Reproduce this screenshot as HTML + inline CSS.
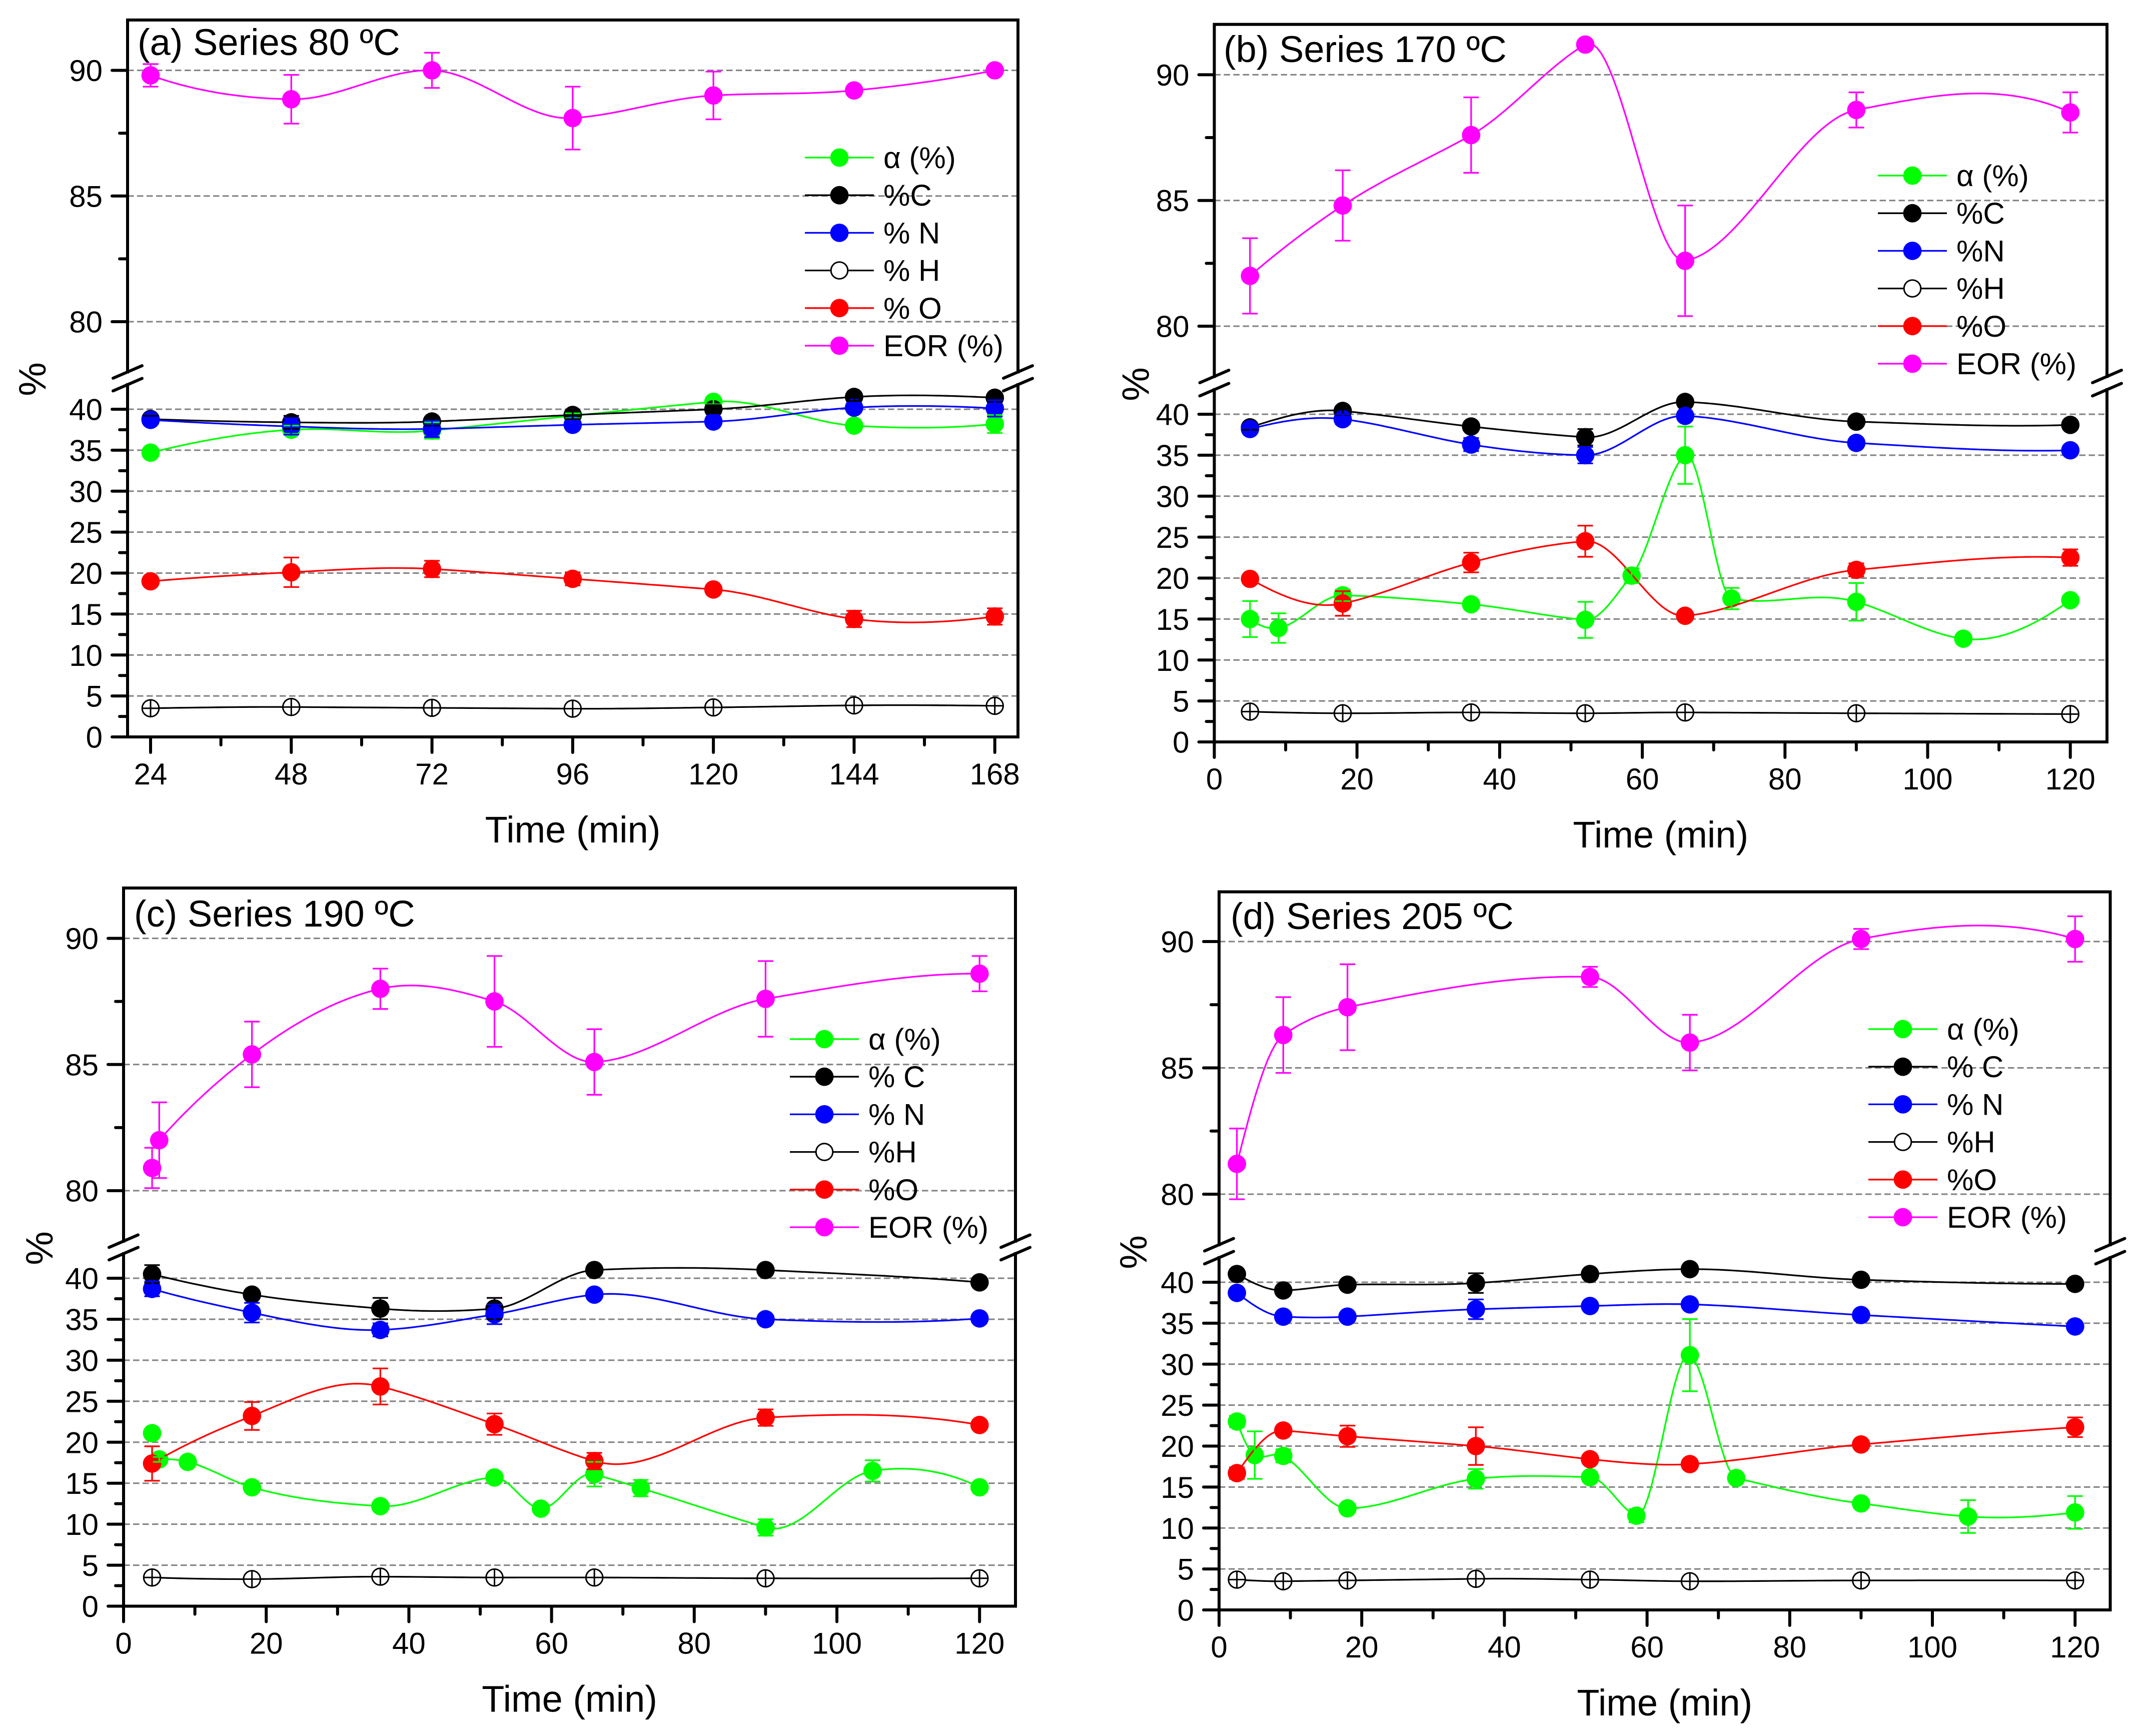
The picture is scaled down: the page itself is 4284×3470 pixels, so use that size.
<!DOCTYPE html>
<html lang="en">
<head>
<meta charset="utf-8">
<title>Composition and EOR versus time for four temperature series</title>
<style>
html,body{margin:0;padding:0;background:#fff;}
svg{display:block;font-family:"Liberation Sans",Arial,sans-serif;}
</style>
</head>
<body>
<svg id="figure" xmlns="http://www.w3.org/2000/svg" width="4284" height="3470" viewBox="0 0 4284 3470"><rect x="0" y="0" width="4284" height="3470" fill="#ffffff"/></svg>
<script>
// ---------- shared tick labels ----------
const yTicksLower = [0, 5, 10, 15, 20, 25, 30, 35, 40];
const yMinorLower = [2.5, 7.5, 12.5, 17.5, 22.5, 27.5, 32.5, 37.5];
const yTicksUpper = [80, 85, 90];
const yMinorUpper = [82.5, 87.5];
const xTicksMinutes = [0, 20, 40, 60, 80, 100, 120];
const xMinorMinutes = [10, 30, 50, 70, 90, 110];
const xTicksHours = [24, 48, 72, 96, 120, 144, 168];
const xMinorHours = [36, 60, 84, 108, 132, 156];

// ---------- panel (a) Series 80 C ----------
const aTime = [24, 48, 72, 96, 120, 144, 168];
const aAlpha = [34.7, 37.5, 37.4, 39.2, 40.9, 38.0, 38.2];
const aAlphaErr = [0, 0.5, 1.0, 0.3, 0.3, 0.3, 1.1];
const aC = [38.8, 38.4, 38.5, 39.3, 40.0, 41.5, 41.4];
const aCErr = [0.4, 0.8, 0.5, 0.5, 0.5, 0.5, 0.5];
const aN = [38.7, 37.9, 37.6, 38.1, 38.5, 40.2, 40.1];
const aNErr = [0.3, 1.0, 1.0, 0.5, 0.5, 0.5, 1.0];
const aH = [3.5, 3.65, 3.55, 3.45, 3.6, 3.85, 3.8];
const aO = [19.0, 20.1, 20.5, 19.3, 18.0, 14.4, 14.7];
const aOErr = [0.3, 1.8, 1.0, 0.8, 0.5, 1.0, 1.0];
const aEor = [89.8, 88.85, 90.0, 88.1, 89.0, 89.2, 90.0];
const aEorErr = [0.45, 0.97, 0.7, 1.25, 0.95, 0, 0];
const aLegend = ['α (%)', '%C', '% N', '% H', '% O', 'EOR (%)'];

// ---------- panel (b) Series 170 C ----------
const bAlphaTime = [5, 9, 18, 36, 52, 58.5, 66, 72.5, 90, 105, 120];
const bAlpha = [15.0, 13.9, 17.9, 16.8, 14.9, 20.3, 35.0, 17.5, 17.1, 12.6, 17.3];
const bAlphaErr = [2.2, 1.8, 0.7, 0.5, 2.2, 0.9, 3.5, 1.3, 2.3, 0.5, 0.5];
const bTime = [5, 18, 36, 52, 66, 90, 120];
const bC = [38.4, 40.4, 38.5, 37.2, 41.5, 39.1, 38.7];
const bCErr = [0.3, 0.5, 0.5, 1.0, 0.3, 0.3, 0.3];
const bN = [38.2, 39.4, 36.3, 35.0, 39.8, 36.5, 35.6];
const bNErr = [0.5, 0.6, 0.8, 1.0, 0.5, 0.4, 0.3];
const bH = [3.7, 3.5, 3.6, 3.5, 3.6, 3.5, 3.4];
const bO = [19.9, 16.9, 21.9, 24.5, 15.4, 21.0, 22.5];
const bOErr = [0.5, 1.5, 1.2, 1.9, 0.5, 0.8, 1.0];
const bEor = [82.0, 84.8, 87.6, 91.2, 82.6, 88.6, 88.5];
const bEorErr = [1.5, 1.4, 1.5, 0, 2.2, 0.7, 0.8];
const bLegend = ['α (%)', '%C', '%N', '%H', '%O', 'EOR (%)'];

// ---------- panel (c) Series 190 C ----------
const cAlphaTime = [4, 5, 9, 18, 36, 52, 58.5, 66, 72.5, 90, 105, 120];
const cAlpha = [21.1, 17.9, 17.6, 14.5, 12.2, 15.7, 11.9, 16.1, 14.4, 9.6, 16.5, 14.5];
const cAlphaErr = [0.3, 0.3, 0.4, 0.5, 0.5, 0.5, 0.5, 1.5, 1.0, 1.0, 1.3, 0.3];
const cTime = [4, 18, 36, 52, 66, 90, 120];
const cC = [40.5, 38.0, 36.3, 36.3, 41.0, 41.0, 39.5];
const cCErr = [1.1, 0.5, 1.3, 1.3, 0.3, 0.3, 0.3];
const cN = [38.7, 35.8, 33.7, 35.6, 38.0, 35.0, 35.1];
const cNErr = [0.9, 1.2, 0.8, 1.2, 0.5, 0.5, 0.5];
const cH = [3.5, 3.3, 3.6, 3.5, 3.5, 3.4, 3.4];
const cO = [17.4, 23.2, 26.8, 22.2, 17.7, 23.0, 22.1];
const cOErr = [2.1, 1.7, 2.2, 1.3, 1.0, 1.0, 0.5];
const cEorTime = [4, 5, 18, 36, 52, 66, 90, 120];
const cEor = [80.9, 82.0, 85.4, 88.0, 87.5, 85.1, 87.6, 88.6];
const cEorErr = [0.8, 1.5, 1.3, 0.8, 1.8, 1.3, 1.5, 0.7];
const cLegend = ['α (%)', '% C', '% N', '%H', '%O', 'EOR (%)'];

// ---------- panel (d) Series 205 C ----------
const dAlphaTime = [2.5, 5, 9, 18, 36, 52, 58.5, 66, 72.5, 90, 105, 120];
const dAlpha = [23.0, 18.9, 18.8, 12.4, 16.0, 16.2, 11.5, 31.1, 16.1, 13.0, 11.4, 11.9];
const dAlphaErr = [0.7, 2.9, 0.8, 0.5, 1.2, 0.5, 0.8, 4.4, 0.5, 0.5, 2.0, 2.0];
const dTime = [2.5, 9, 18, 36, 52, 66, 90, 120];
const dC = [41.0, 39.0, 39.7, 39.9, 41.0, 41.6, 40.3, 39.8];
const dCErr = [0.3, 0.3, 0.3, 1.2, 0.3, 0.3, 0.3, 0.3];
const dN = [38.7, 35.8, 35.8, 36.7, 37.1, 37.3, 36.0, 34.6];
const dNErr = [0.3, 0.4, 0.3, 1.2, 0.3, 0.3, 0.3, 0.3];
const dH = [3.7, 3.5, 3.6, 3.8, 3.7, 3.5, 3.6, 3.6];
const dO = [16.7, 21.9, 21.2, 20.0, 18.4, 17.8, 20.2, 22.3];
const dOErr = [0.7, 0.5, 1.3, 2.3, 0.5, 0.3, 0.3, 1.2];
const dEorTime = [2.5, 9, 18, 52, 66, 90, 120];
const dEor = [81.2, 86.3, 87.4, 88.6, 86.0, 90.1, 90.1];
const dEorErr = [1.4, 1.5, 1.7, 0.4, 1.1, 0.4, 0.9];
const dLegend = ['α (%)', '% C', '% N', '%H', '%O', 'EOR (%)'];

// ---------- styling constants ----------
const GREEN = '#00ff00', BLACK = '#000000', BLUE = '#0000ff', RED = '#ff0000', MAGENTA = '#ff00ff';
const legendColors = [GREEN, BLACK, BLUE, BLACK, RED, MAGENTA];
const NS = 'http://www.w3.org/2000/svg';
const root = document.getElementById('figure');

function make(tag, attrs, parent, text) {
  const el = document.createElementNS(NS, tag);
  for (const k in attrs) el.setAttribute(k, attrs[k]);
  if (text !== undefined) el.textContent = text;
  parent.appendChild(el);
  return el;
}

// Akima spline through pixel points, sampled to a path
function splinePath(px, py) {
  const n = px.length;
  if (n < 2) return '';
  const d = [];
  for (let i = 0; i < n - 1; i++) d.push((py[i + 1] - py[i]) / (px[i + 1] - px[i]));
  const ext = [];
  const first = n > 2 ? 2 * d[0] - d[1] : d[0];
  const zero = 2 * first - d[0];
  const last = n > 2 ? 2 * d[n - 2] - d[n - 3] : d[0];
  const past = 2 * last - d[n - 2];
  ext.push(zero, first);
  d.forEach(v => ext.push(v));
  ext.push(last, past);
  const m = [];
  for (let i = 0; i < n; i++) {
    const s0 = ext[i], s1 = ext[i + 1], s2 = ext[i + 2], s3 = ext[i + 3];
    const w1 = Math.abs(s3 - s2), w2 = Math.abs(s1 - s0);
    m.push(w1 + w2 < 1e-9 ? (s1 + s2) / 2 : (w1 * s1 + w2 * s2) / (w1 + w2));
  }
  let out = 'M' + px[0].toFixed(1) + ' ' + py[0].toFixed(1);
  for (let i = 0; i < n - 1; i++) {
    const h = px[i + 1] - px[i];
    const steps = Math.max(4, Math.ceil(h / 8));
    for (let k = 1; k <= steps; k++) {
      const t = k / steps, t2 = t * t, t3 = t2 * t;
      const y = (2 * t3 - 3 * t2 + 1) * py[i] + (t3 - 2 * t2 + t) * h * m[i] + (-2 * t3 + 3 * t2) * py[i + 1] + (t3 - t2) * h * m[i + 1];
      out += 'L' + (px[i] + h * t).toFixed(1) + ' ' + y.toFixed(1);
    }
  }
  return out;
}

function drawPanel(p) {
  const g = make('g', {}, root);
  
  

  const sx = v => p.xAt + (v - p.xRef) * p.xScale;
  const sy = v => v < 60 ? p.y0 + (p.y40 - p.y0) * v / 40 : p.y80 + (p.y90 - p.y80) * (v - 80) / 10;
  const lowerTop = sy(43), upperBottom = sy(78);

  // gridlines
  const gridGroup = make('g', {}, g);
  
  
  yTicksLower.concat(yTicksUpper).forEach(v => {
    if (v === 0) return;
    const line = make('line', { x1: p.left, x2: p.right, y1: sy(v), y2: sy(v), stroke: '#808080', 'stroke-width': 3, 'stroke-dasharray': '12.5 6.5' }, gridGroup);
    
    
  });

  // series lines and markers
  p.series.forEach(s => {
    const sg = make('g', {}, g);
    
    
    const from = s.skip || 0;
    const px = s.x.slice(from).map(sx), py = s.y.slice(from).map(sy);
    const path = make('path', { d: splinePath(px, py), fill: 'none', stroke: s.color, 'stroke-width': 3.3 }, sg);
    
    
    s.x.forEach((xv, i) => {
      const cx = sx(xv), cy = sy(s.y[i]);
      if (s.hollow) {
        const ring = make('circle', { cx: cx, cy: cy, r: 16.8, fill: '#ffffff', stroke: s.color, 'stroke-width': 3 }, sg);
        
        
        const cross = make('path', { d: 'M' + (cx - 16) + ' ' + cy + 'H' + (cx + 16) + 'M' + cx + ' ' + (cy - 16) + 'V' + (cy + 16), stroke: s.color, 'stroke-width': 3, fill: 'none' }, sg);
        
        
      } else {
        const dot = make('circle', { cx: cx, cy: cy, r: 18.4, fill: s.color }, sg);
        
        
      }
    });
  });

  // error bars on top of all markers
  p.series.forEach(s => {
    if (!s.err) return;
    s.x.forEach((xv, i) => {
      if (!s.err[i]) return;
      const cx = sx(xv), hi = sy(s.y[i] + s.err[i]), lo = sy(s.y[i] - s.err[i]);
      const d = 'M' + cx + ' ' + hi + 'V' + lo + 'M' + (cx - 15.5) + ' ' + hi + 'H' + (cx + 15.5) + 'M' + (cx - 15.5) + ' ' + lo + 'H' + (cx + 15.5);
      const bar = make('path', { d: d, fill: 'none', stroke: s.color, 'stroke-width': 3.3 }, g);
      
      
    });
  });

  // axes frame
  const frame = make('path', {
    d: 'M' + p.left + ' ' + upperBottom + 'V' + p.top + 'H' + p.right + 'V' + upperBottom +
       'M' + p.left + ' ' + lowerTop + 'V' + p.y0 + 'H' + p.right + 'V' + lowerTop,
    fill: 'none', stroke: '#000', 'stroke-width': 6, 'stroke-linecap': 'square'
  }, g);
  
  

  // axis break marks
  [p.left, p.right].forEach(ax => {
    [upperBottom, lowerTop].forEach(by => {
      const slash = make('line', { x1: ax - 29, y1: by + 12.5, x2: ax + 29, y2: by - 12.5, stroke: '#000', 'stroke-width': 6, 'stroke-linecap': 'round' }, g);
      
      
    });
  });

  // y ticks
  yTicksLower.concat(yTicksUpper).forEach(v => {
    const tick = make('line', { x1: p.left - 31, x2: p.left, y1: sy(v), y2: sy(v), stroke: '#000', 'stroke-width': 6, 'stroke-linecap': 'round' }, g);
    
    
    const label = make('text', { x: p.left - 50, y: sy(v) + 21.5, 'text-anchor': 'end', 'font-size': 60, fill: '#000' }, g, String(v));
    
    
  });
  yMinorLower.concat(yMinorUpper).forEach(v => {
    const tick = make('line', { x1: p.left - 16, x2: p.left, y1: sy(v), y2: sy(v), stroke: '#000', 'stroke-width': 6, 'stroke-linecap': 'round' }, g);
    
    
  });

  // x ticks
  p.xTicks.forEach(v => {
    const tick = make('line', { x1: sx(v), x2: sx(v), y1: p.y0, y2: p.y0 + 31, stroke: '#000', 'stroke-width': 6, 'stroke-linecap': 'round' }, g);
    
    
    const label = make('text', { x: sx(v), y: p.y0 + 95, 'text-anchor': 'middle', 'font-size': 60, fill: '#000' }, g, String(v));
    
    
  });
  p.xMinor.forEach(v => {
    const tick = make('line', { x1: sx(v), x2: sx(v), y1: p.y0, y2: p.y0 + 16, stroke: '#000', 'stroke-width': 6, 'stroke-linecap': 'round' }, g);
    
    
  });

  // axis titles
  const xTitle = make('text', { x: (p.left + p.right) / 2, y: p.y0 + 211, 'text-anchor': 'middle', 'font-size': 74, fill: '#000' }, g, 'Time (min)');
  
  
  const yTx = p.left + p.pctDx, yTy = p.y40 - 60;
  const yTitle = make('text', { x: yTx, y: yTy, 'text-anchor': 'middle', 'font-size': 76, fill: '#000', transform: 'rotate(-90 ' + yTx + ' ' + yTy + ')' }, g, '%');
  
  

  // panel title
  const title = make('text', { x: p.titleX, y: p.titleY, 'font-size': 74, fill: '#000' }, g, p.title);
  
  

  // legend
  const lg = make('g', {}, g);
  
  
  p.legend.forEach((name, i) => {
    const ly = p.legendY + i * 75.2;
    const entry = make('g', {}, lg);
    
    
    const sample = make('line', { x1: p.legendX, x2: p.legendX + 138, y1: ly, y2: ly, stroke: legendColors[i], 'stroke-width': 3.3 }, entry);
    
    
    const hollow = i === 3;
    const mark = make('circle', { cx: p.legendX + 69, cy: ly, r: hollow ? 16.8 : 18.4, fill: hollow ? '#ffffff' : legendColors[i], stroke: hollow ? '#000' : 'none', 'stroke-width': hollow ? 3 : 0 }, entry);
    
    
    const label = make('text', { x: p.legendX + 157, y: ly + 21, 'font-size': 60, fill: '#000' }, entry, name);
    
    
  });
}

function seriesSet(alphaX, alpha, alphaErr, alphaSkip, x, c, cErr, n, nErr, h, o, oErr, eorX, eor, eorErr, eorSkip) {
  return [
    { key: 'alpha', color: GREEN, x: alphaX, y: alpha, err: alphaErr, skip: alphaSkip },
    { key: 'carbon', color: BLACK, x: x, y: c, err: cErr },
    { key: 'nitrogen', color: BLUE, x: x, y: n, err: nErr },
    { key: 'hydrogen', color: BLACK, x: x, y: h, hollow: true },
    { key: 'oxygen', color: RED, x: x, y: o, err: oErr },
    { key: 'eor', color: MAGENTA, x: eorX, y: eor, err: eorErr, skip: eorSkip }
  ];
}

drawPanel({
  id: 'a', title: '(a) Series 80 ºC', titleX: 275, titleY: 110,
  left: 255, right: 2035, top: 40, y0: 1473, y40: 818, y80: 643, y90: 140.6,
  xRef: 24, xAt: 301, xScale: 11.72, xTicks: xTicksHours, xMinor: xMinorHours, pctDx: -164,
  legend: aLegend, legendX: 1609, legendY: 315,
  series: seriesSet(aTime, aAlpha, aAlphaErr, 0, aTime, aC, aCErr, aN, aNErr, aH, aO, aOErr, aTime, aEor, aEorErr, 0)
});
drawPanel({
  id: 'b', title: '(b) Series 170 ºC', titleX: 2446, titleY: 124,
  left: 2427.5, right: 4212, top: 48.7, y0: 1483, y40: 828, y80: 652, y90: 149.4,
  xRef: 0, xAt: 2427.5, xScale: 14.26, xTicks: xTicksMinutes, xMinor: xMinorMinutes, pctDx: -131,
  legend: bLegend, legendX: 3754, legendY: 351,
  series: seriesSet(bAlphaTime, bAlpha, bAlphaErr, 0, bTime, bC, bCErr, bN, bNErr, bH, bO, bOErr, bTime, bEor, bEorErr, 0)
});
drawPanel({
  id: 'c', title: '(c) Series 190 ºC', titleX: 268, titleY: 1852,
  left: 247, right: 2030, top: 1775, y0: 3210.5, y40: 2555, y80: 2380, y90: 1875.6,
  xRef: 0, xAt: 247, xScale: 14.26, xTicks: xTicksMinutes, xMinor: xMinorMinutes, pctDx: -142,
  legend: cLegend, legendX: 1579, legendY: 2077,
  series: seriesSet(cAlphaTime, cAlpha, cAlphaErr, 1, cTime, cC, cCErr, cN, cNErr, cH, cO, cOErr, cEorTime, cEor, cEorErr, 1)
});
drawPanel({
  id: 'd', title: '(d) Series 205 ºC', titleX: 2460, titleY: 1857,
  left: 2437, right: 4218.5, top: 1782.6, y0: 3218, y40: 2563, y80: 2387, y90: 1882,
  xRef: 0, xAt: 2437, xScale: 14.26, xTicks: xTicksMinutes, xMinor: xMinorMinutes, pctDx: -145,
  legend: dLegend, legendX: 3735, legendY: 2057,
  series: seriesSet(dAlphaTime, dAlpha, dAlphaErr, 0, dTime, dC, dCErr, dN, dNErr, dH, dO, dOErr, dEorTime, dEor, dEorErr, 0)
});
</script>
</body>
</html>
